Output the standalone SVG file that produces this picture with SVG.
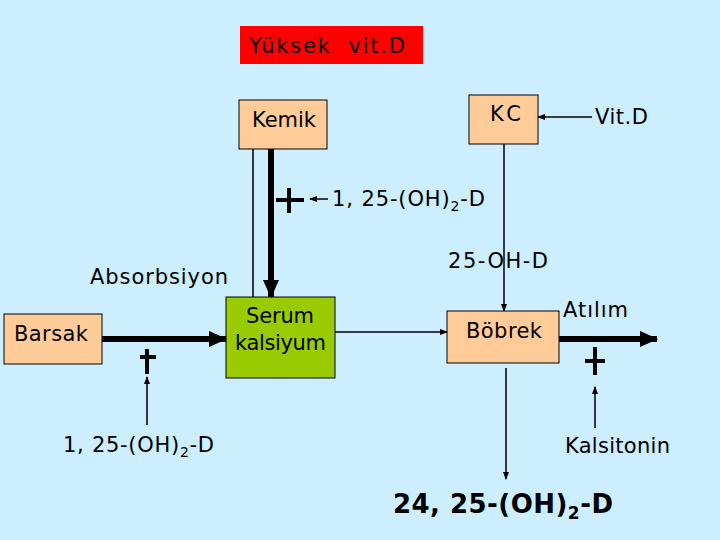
<svg xmlns="http://www.w3.org/2000/svg" width="720" height="540" viewBox="0 0 720 540">
<defs>
<style>
text{font-family:"DejaVu Sans","Liberation Sans",sans-serif;font-size:21px;fill:#000}
.box{fill:#ffcc99;stroke:#000;stroke-width:1}
.thin{stroke:#000;stroke-width:1.5;fill:none}
.thick{stroke:#000;stroke-width:6;fill:none}
.bar{stroke:#000;stroke-width:4;fill:none}
.sub{font-size:14px}
</style>
<marker id="ah" markerWidth="8" markerHeight="8" refX="7" refY="4" orient="auto" markerUnits="userSpaceOnUse"><path d="M0,1 L8,4 L0,7 Z" fill="#000"/></marker>
<marker id="ahb" markerWidth="18" markerHeight="16" refX="17" refY="8" orient="auto" markerUnits="userSpaceOnUse"><path d="M0,0 L18,8 L0,16 Z" fill="#000"/></marker>
</defs>
<rect width="720" height="540" fill="#cceeff"/>
<g id="title"><rect x="240" y="26" width="183" height="38" fill="#ff0000"/><text x="249" y="53" xml:space="preserve" textLength="156" lengthAdjust="spacing">Yüksek  vit.D</text></g>
<g id="kemik"><rect class="box" x="239" y="100" width="88" height="49"/><text x="252" y="127" textLength="64" lengthAdjust="spacing">Kemik</text></g>
<g id="kc"><rect class="box" x="469" y="95" width="69" height="49"/><text x="490" y="121" textLength="31" lengthAdjust="spacing">KC</text></g>
<g id="vitd"><text x="595" y="124" textLength="53" lengthAdjust="spacing">Vit.D</text></g>
<g id="serum"><rect x="226" y="297" width="109" height="81" fill="#99cc00" stroke="#000"/><text x="246" y="323" textLength="68" lengthAdjust="spacing">Serum</text><text x="235" y="350" textLength="91" lengthAdjust="spacing">kalsiyum</text></g>
<g id="barsak"><rect class="box" x="4" y="314" width="98" height="50"/><text x="14" y="341" textLength="74" lengthAdjust="spacing">Barsak</text></g>
<g id="bobrek"><rect class="box" x="447" y="311" width="112" height="52"/><text x="466" y="338" textLength="76" lengthAdjust="spacing">Böbrek</text></g>
<g id="labels">
<text x="90" y="284" textLength="138" lengthAdjust="spacing">Absorbsiyon</text>
<text x="332" y="206" textLength="153" lengthAdjust="spacing">1, 25-(OH)<tspan class="sub" dy="5">2</tspan><tspan dy="-5">-D</tspan></text>
<text x="448" y="268" textLength="100" lengthAdjust="spacing">25-OH-D</text>
<text x="63" y="452" textLength="151" lengthAdjust="spacing">1, 25-(OH)<tspan class="sub" dy="5">2</tspan><tspan dy="-5">-D</tspan></text>
<text x="563" y="317" textLength="65" lengthAdjust="spacing">Atılım</text>
<text x="565" y="453" textLength="105" lengthAdjust="spacing">Kalsitonin</text>
<text x="393" y="513" textLength="220" lengthAdjust="spacing" style="font-size:26px;font-weight:bold">24, 25-(OH)<tspan style="font-size:17px" dy="6">2</tspan><tspan dy="-6">-D</tspan></text>
</g>
<g id="connectors">
<line class="thin" x1="592" y1="117" x2="538" y2="117" marker-end="url(#ah)"/>
<line class="thin" x1="504" y1="144" x2="504" y2="311" marker-end="url(#ah)"/>
<line class="thin" x1="253" y1="149" x2="253" y2="297"/>
<line class="thick" x1="271" y1="149" x2="271" y2="297" marker-end="url(#ahb)"/>
<line class="bar" x1="276" y1="200" x2="304" y2="200"/>
<line class="bar" x1="289" y1="188" x2="289" y2="213"/>
<line class="thin" x1="328" y1="199" x2="310" y2="199" marker-end="url(#ah)"/>
<line class="thick" x1="102" y1="339" x2="226" y2="339" marker-end="url(#ahb)"/>
<line class="bar" x1="140" y1="357" x2="156" y2="357"/>
<line class="bar" x1="147" y1="349" x2="147" y2="374"/>
<line class="thin" x1="147" y1="425" x2="147" y2="377" marker-end="url(#ah)"/>
<line class="thin" x1="335" y1="332" x2="447" y2="332" marker-end="url(#ah)"/>
<line class="thick" x1="559" y1="339" x2="657" y2="339" marker-end="url(#ahb)"/>
<line class="bar" x1="585" y1="361" x2="605" y2="361"/>
<line class="bar" x1="595" y1="347" x2="595" y2="375"/>
<line class="thin" x1="595" y1="428" x2="595" y2="387" marker-end="url(#ah)"/>
<line class="thin" x1="506" y1="368" x2="506" y2="479" marker-end="url(#ah)"/>
</g>
</svg>
